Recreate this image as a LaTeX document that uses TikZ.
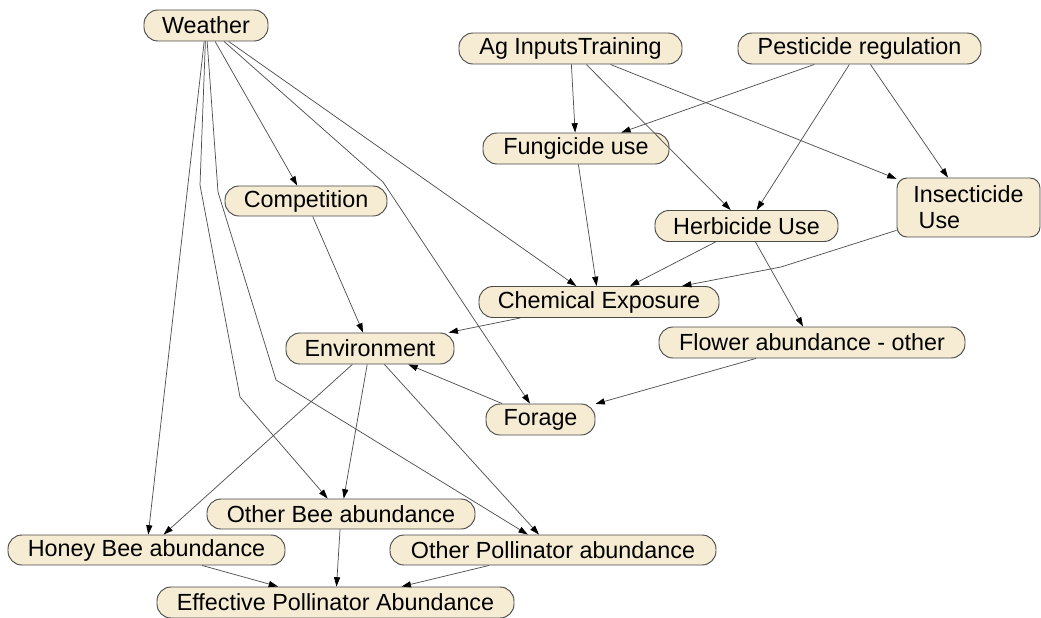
\documentclass[tikz,border=0pt]{standalone}
\usepackage{fontspec}
\setmainfont{Liberation Sans}
\usetikzlibrary{arrows.meta}
\definecolor{nodefill}{HTML}{F6ECD3}
\definecolor{nodeline}{HTML}{4A4A4A}
\definecolor{edgeline}{HTML}{505050}
\def\px{0.75pt}
\begin{document}
\begin{tikzpicture}[x=0.75pt,y=-0.75pt,
  bn/.style={draw=nodeline, line width=0.7pt, fill=nodefill, rounded corners=14*\px,
     minimum height=31*\px, inner sep=0pt, text=black,
     font=\fontsize{17.5}{19.5}\selectfont},
  link/.style={draw=edgeline, line width=0.55pt,
     -{Triangle[length=7pt,width=4.6pt,color=black]}}]
\useasboundingbox (0,0) rectangle (1041,617);

% nodes
\node[bn, minimum width=124*\px] (weather) at (206,25.5) {Weather};
\node[bn, minimum width=223*\px] (ag) at (570.5,48.5) {Ag InputsTraining};
\node[bn, minimum width=243*\px] (pest) at (859.5,48.5) {Pesticide regulation};
\node[bn, minimum width=186*\px] (fung) at (576,148.5) {Fungicide use};
\node[bn, minimum width=162*\px, minimum height=30*\px] (comp) at (306,201) {Competition};
\node[bn, minimum width=143*\px, minimum height=59*\px, rounded corners=10*\px, align=left]
   (insect) at (968.5,207.5) {Insecticide\\\hspace*{4pt}Use};
\node[bn, minimum width=183*\px] (herb) at (746.5,226) {Herbicide Use};
\node[bn, minimum width=240*\px] (chem) at (599,302) {Chemical Exposure};
\node[bn, minimum width=168*\px] (env) at (370,348.5) {Environment};
\node[bn, minimum width=306*\px] (flower) at (812,342.5) {Flower abundance - other};
\node[bn, minimum width=109*\px] (forage) at (540.5,419.5) {Forage};
\node[bn, minimum width=268*\px, minimum height=30*\px] (otherbee) at (341,514) {Other Bee abundance};
\node[bn, minimum width=277*\px, minimum height=30*\px] (honey) at (146.5,550) {Honey Bee abundance};
\node[bn, minimum width=326*\px, minimum height=30*\px] (otherpoll) at (553,550) {Other Pollinator abundance};
\node[bn, minimum width=357*\px, minimum height=31*\px] (eff) at (335.5,602.5) {Effective Pollinator Abundance};

% bend points
\coordinate (bf) at (383,182);
\coordinate (bb1) at (200,185);
\coordinate (bb2) at (240,397);
\coordinate (bp1) at (218,192);
\coordinate (bp2) at (276,380);
\coordinate (bi) at (781,267);

% links
\draw[link] (weather) -- (comp);
\draw[link] (weather) -- (chem);
\draw[link] (weather) -- (bf) -- (forage);
\draw[link] (weather) -- (honey);
\draw[link] (weather) -- (bb1) -- (bb2) -- (otherbee);
\draw[link] (weather) -- (bp1) -- (bp2) -- (otherpoll);

\draw[link] (ag) -- (fung);
\draw[link] (ag) -- (herb);
\draw[link] (ag) -- (insect);
\draw[link] (pest) -- (fung);
\draw[link] (pest) -- (herb);
\draw[link] (pest) -- (insect);

\draw[link] (fung) -- (chem);
\draw[link] (herb) -- (chem);
\draw[link] (insect) -- (bi) -- (chem);
\draw[link] (herb) -- (flower);

\draw[link] (chem) -- (env);
\draw[link] (comp) -- (env);
\draw[link] (flower) -- (forage);
\draw[link] (forage) -- (env);

\draw[link] (env) -- (honey);
\draw[link] (env) -- (otherbee);
\draw[link] (env) -- (otherpoll);

\draw[link] (honey) -- (eff);
\draw[link] (otherbee) -- (eff);
\draw[link] (otherpoll) -- (eff);
\end{tikzpicture}
\end{document}
